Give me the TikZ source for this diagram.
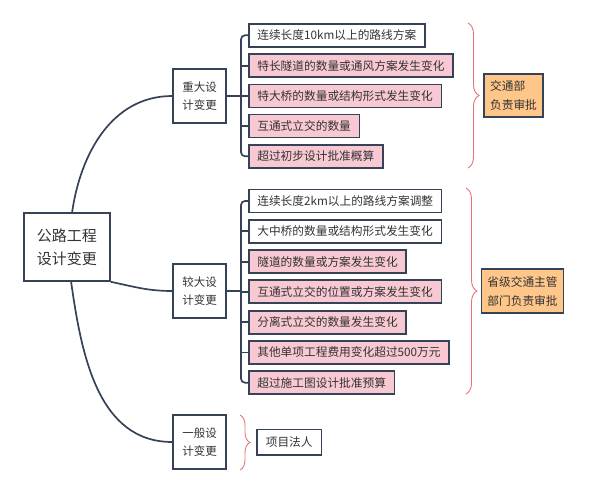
\documentclass[tikz,border=0pt]{standalone}
\usepackage{fontspec}
\setmainfont{Noto Sans CJK SC}
\usetikzlibrary{decorations.pathreplacing,positioning}
\definecolor{lineC}{HTML}{364256}
\definecolor{txtC}{HTML}{333333}
\definecolor{pinkC}{HTML}{F8C9D2}
\definecolor{orangeC}{HTML}{FFC68A}
\definecolor{braceC}{HTML}{E57373}
\tikzset{
  box/.style={draw=lineC, line width=1.6pt, text=txtC, inner sep=0pt},
  rootbox/.style={box, minimum width=86pt, minimum height=68pt, font=\fontsize{15pt}{23pt}\selectfont, align=center},
  grpbox/.style={box, minimum width=53pt, minimum height=54pt, font=\fontsize{11.5pt}{18pt}\selectfont, align=center},
  leaf/.style={box, anchor=west, inner xsep=8.5pt, minimum height=23pt, font=\fontsize{11.7pt}{14pt}\selectfont},
  pinkleaf/.style={leaf, fill=pinkC},
  orbox/.style={box, fill=orangeC, anchor=west, align=left, inner xsep=6pt, font=\fontsize{11.7pt}{19pt}\selectfont},
  conn/.style={draw=lineC, line width=1.7pt},
  brk/.style={draw=lineC, line width=1.7pt, rounded corners=4pt},
  crl/.style={draw=braceC, line width=0.9pt, decorate, decoration={brace, amplitude=11pt}},
}
\begin{document}
\begin{tikzpicture}[x=1pt, y=-1pt]
\useasboundingbox (0,0) rectangle (590,497);
% root and groups
\node[rootbox] (root) at (67,247) {公路工程\\设计变更};
\node[grpbox] (g1) at (199.5,96) {重大设\\计变更};
\node[grpbox] (g2) at (199.5,291) {较大设\\计变更};
\node[grpbox] (g3) at (199.5,442) {一般设\\计变更};
% curves
\draw[conn] (72,213) to[out=82,in=180] (g1.west);
\draw[conn] (root.south east) to[out=-12,in=180] (g2.west);
\draw[conn] (71,281) to[out=-82,in=180] (g3.west);
% group 1 leaves
\node[leaf]     (a1) at (248,35.3)  {连续长度10km以上的路线方案};
\node[pinkleaf] (a2) at (248,65.8)  {特长隧道的数量或通风方案发生变化};
\node[pinkleaf] (a3) at (248,96.2)  {特大桥的数量或结构形式发生变化};
\node[pinkleaf] (a4) at (248,126.2) {互通式立交的数量};
\node[pinkleaf] (a5) at (248,156.3) {超过初步设计批准概算};
\coordinate (b1) at (241,96);
\draw[brk] (a1.west) -| (b1) |- (a5.west);
\draw[conn] (g1.east) -- (b1);
\foreach \n in {a2,a3,a4} \draw[conn] (b1 |- \n.west) -- (\n.west);
% group 2 leaves
\node[leaf]     (c1) at (248,201)   {连续长度2km以上的路线方案调整};
\node[leaf]     (c2) at (248,231.3) {大中桥的数量或结构形式发生变化};
\node[pinkleaf] (c3) at (248,261.7) {隧道的数量或方案发生变化};
\node[pinkleaf] (c4) at (248,291.7) {互通式立交的位置或方案发生变化};
\node[pinkleaf] (c5) at (248,322.3) {分离式立交的数量发生变化};
\node[pinkleaf] (c6) at (248,352.5) {其他单项工程费用变化超过500万元};
\node[pinkleaf] (c7) at (248,382.7) {超过施工图设计批准预算};
\coordinate (b2) at (241,291);
\draw[brk] (c1.west) -| (b2) |- (c7.west);
\draw[conn] (g2.east) -- (b2);
\foreach \n in {c2,c3,c4,c5,c6} \draw[conn] (b2 |- \n.west) -- (\n.west);
% braces
\coordinate (r1t) at (468,23);  \coordinate (r1b) at (468,168);
\coordinate (r2t) at (466,188); \coordinate (r2b) at (466,394);
\coordinate (r3t) at (240,415); \coordinate (r3b) at (240,470);
\draw[crl] (r1t) -- (r1b);
\draw[crl] (r2t) -- (r2b);
\draw[crl, decoration={brace, amplitude=10pt}] (r3t) -- (r3b);
% approval boxes
\node[orbox, minimum width=58pt, minimum height=43pt] (o1) at (483.3,95.7) {交通部\\负责审批};
\node[orbox, minimum width=82pt, minimum height=44pt, inner xsep=5pt] (o2) at (480.7,291.3) {省级交通主管\\部门负责审批};
\node[leaf, inner xsep=9pt, minimum height=25.5pt] (p1) at (256,442.2) {项目法人};
\end{tikzpicture}
\end{document}
